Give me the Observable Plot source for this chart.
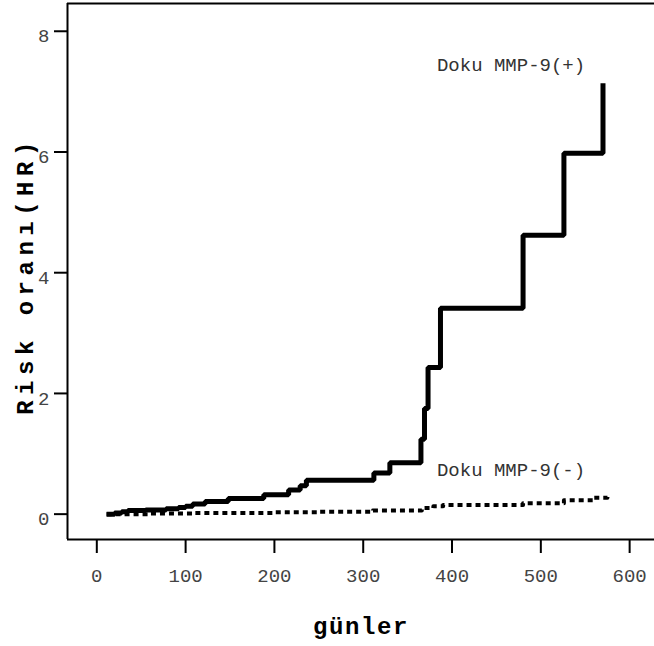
<!DOCTYPE html>
<html>
<head>
<meta charset="utf-8">
<script src="https://cdn.jsdelivr.net/npm/d3@7"></script>
<script src="https://cdn.jsdelivr.net/npm/@observablehq/plot@0.6"></script>
<style>
  html, body { margin: 0; padding: 0; background: #fff; }
</style>
</head>
<body>
<div id="chart"></div>
<script>
// Doku MMP-9(+) cumulative hazard (step function)
const posDays = [11, 20, 28, 35, 55, 78, 92, 100, 108, 122, 148, 188, 216, 229, 236, 312, 330, 365, 369, 373, 387, 480, 526, 570];
const posHR   = [0.00, 0.02, 0.04, 0.06, 0.07, 0.09, 0.11, 0.13, 0.17, 0.21, 0.26, 0.32, 0.40, 0.47, 0.56, 0.68, 0.85, 1.24, 1.75, 2.43, 3.41, 4.62, 5.98, 7.14];
// Doku MMP-9(-)
const negDays = [11, 60, 110, 200, 250, 311, 366, 379, 390, 480, 526, 560, 575];
const negHR   = [0.00, 0.01, 0.02, 0.03, 0.04, 0.06, 0.10, 0.13, 0.15, 0.18, 0.23, 0.27, 0.29];

const xTicks = [0, 100, 200, 300, 400, 500, 600];
const yTicks = [0, 2, 4, 6, 8];
const xDomain = [-33, 628];
const yDomain = [-0.42, 8.46];

const seriesLabels = ["Doku MMP-9(+)", "Doku MMP-9(-)"];
const labelDays = [383, 383];
const labelHR = [7.45, 0.74];

const xTitle = "günler";
const yTitle = "Risk oranı(HR)";

const pos = posDays.map((d, i) => ({d, hr: posHR[i]}));
const neg = negDays.map((d, i) => ({d, hr: negHR[i]}));
const lab = seriesLabels.map((t, i) => ({t, d: labelDays[i], hr: labelHR[i]}));

const font = "'Liberation Mono', 'DejaVu Sans Mono', monospace";

const chart = Plot.plot({
  width: 654,
  height: 646,
  marginLeft: 67,
  marginRight: 0,
  marginTop: 3,
  marginBottom: 107,
  style: {fontFamily: font, fontSize: "19px", color: "#000", background: "#fff"},
  x: {domain: xDomain},
  y: {domain: yDomain},
  marks: [
    Plot.ruleX([xDomain[0]], {strokeWidth: 2}),
    Plot.ruleY([yDomain[0], yDomain[1]], {strokeWidth: 2}),
    Plot.axisX({ticks: xTicks, tickSize: 14, tickPadding: 15, strokeWidth: 2, label: null, fill: "#444", fontSize: 19}),
    Plot.axisY({ticks: yTicks, tickSize: 13, strokeWidth: 2, tickFormat: () => "", label: null}),
    Plot.axisY({ticks: yTicks, tickSize: 0, tickPadding: 18, dy: 5, label: null, fill: "#444", fontSize: 19}),
    Plot.line(neg, {x: "d", y: "hr", curve: "step-after", stroke: "#000", strokeWidth: 4, strokeDasharray: "5,4", strokeLinecap: "butt"}),
    Plot.line(pos, {x: "d", y: "hr", curve: "step-after", stroke: "#000", strokeWidth: 5, strokeLinejoin: "miter", strokeLinecap: "butt"}),
    Plot.text(lab, {x: "d", y: "hr", text: "t", textAnchor: "start", fill: "#333", fontSize: 19, fontFamily: font}),
    Plot.text([xTitle], {frameAnchor: "bottom", dy: 87, text: d => d, textAnchor: "middle", lineAnchor: "middle", fontSize: 24, fontWeight: "bold", fontFamily: font, fill: "#000"}),
    Plot.text([yTitle], {frameAnchor: "left", dx: -42, dy: 4, rotate: -90, text: d => d, textAnchor: "middle", lineAnchor: "middle", fontSize: 24, fontWeight: "bold", fontFamily: font, fill: "#000"})
  ]
});
document.getElementById("chart").appendChild(chart);
// letter spacing of the axis titles to match the reference
chart.querySelectorAll("text").forEach(t => {
  if (t.textContent === yTitle) t.setAttribute("letter-spacing", "5.5");
  if (t.textContent === xTitle) t.setAttribute("letter-spacing", "1.6");
});
</script>
</body>
</html>
